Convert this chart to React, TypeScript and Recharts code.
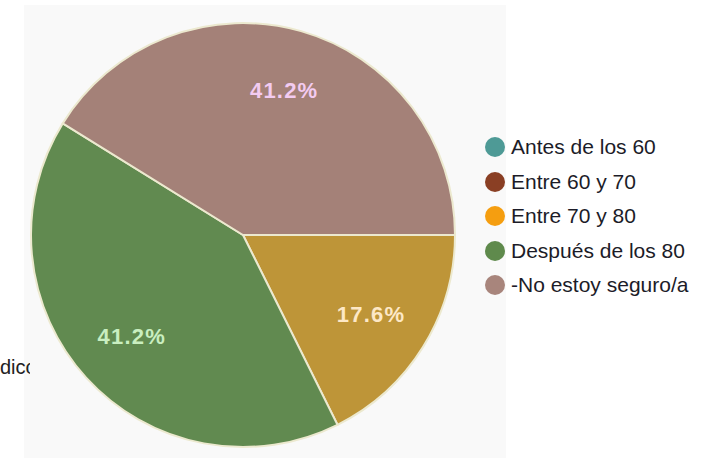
import React from 'react';
import { PieChart, Pie, Cell, Legend } from 'recharts';

const categories = ['Antes de los 60', 'Entre 60 y 70', 'Entre 70 y 80', 'Después de los 80', '-No estoy seguro/a'];
const counts = [0, 0, 3, 7, 7];
const sliceColors = ['#4e9a96', '#8a3f24', '#be9538', '#618a50', '#a48178'];
const legendColors = ['#4e9a96', '#8a3f24', '#f59e10', '#5f8a4c', '#a8857c'];
const labelColors = ['#ffffff', '#ffffff', '#fde8c6', '#c9eec0', '#f3cbf1'];

const data = categories.map((name, i) => ({ name, value: counts[i] }));
const total = counts.reduce((a, b) => a + b, 0);

const RAD = Math.PI / 180;

const renderLabel = (props: any) => {
  const { cx, cy, midAngle, outerRadius, value, index } = props;
  if (!value) return null;
  const r = outerRadius * 0.71;
  const x = cx + r * Math.cos(-midAngle * RAD);
  const y = cy + r * Math.sin(-midAngle * RAD);
  return (
    <text
      x={x}
      y={y}
      fill={labelColors[index]}
      textAnchor="middle"
      dominantBaseline="central"
      fontSize={22}
      fontWeight="bold"
      fontFamily="Liberation Sans, Arial, sans-serif"
      letterSpacing={1.2}
    >
      {((value / total) * 100).toFixed(1) + '%'}
    </text>
  );
};

const renderLegend = () => (
  <div style={{ fontFamily: 'Liberation Sans, Arial, sans-serif', fontSize: 21, color: '#1c1c28' }}>
    {categories.map((c, i) => (
      <div key={c} style={{ display: 'flex', alignItems: 'center', height: 34.5 }}>
        <span
          style={{
            display: 'inline-block',
            width: 20,
            height: 20,
            borderRadius: 10,
            background: legendColors[i],
            marginRight: 6,
          }}
        />
        <span>{c}</span>
      </div>
    ))}
  </div>
);

export default function App() {
  return (
    <div style={{ position: 'fixed', left: 0, top: 0, width: 703, height: 458, background: '#fff', overflow: 'hidden' }}>
      <div style={{ position: 'absolute', left: 24, top: 5, width: 482, height: 453, background: '#f9f9f9' }} />
      <div
        style={{
          position: 'absolute',
          left: 0,
          top: 356,
          width: 30,
          overflow: 'hidden',
          fontFamily: 'Liberation Sans, Arial, sans-serif',
          fontSize: 20,
          color: '#222',
          whiteSpace: 'nowrap',
        }}
      >
        dico
      </div>
      <div style={{ position: 'absolute', left: 0, top: 0 }}>
        <PieChart width={703} height={458} margin={{ top: 0, right: 0, bottom: 0, left: 0 }}>
          <Pie
            data={data}
            dataKey="value"
            nameKey="name"
            cx={243}
            cy={235}
            outerRadius={212}
            startAngle={0}
            endAngle={-360}
            stroke="#ece9cf"
            strokeWidth={2}
            labelLine={false}
            label={renderLabel}
            isAnimationActive={false}
          >
            {data.map((d, i) => (
              <Cell key={d.name} fill={sliceColors[i]} />
            ))}
          </Pie>
          <Legend
            content={renderLegend}
            layout="vertical"
            wrapperStyle={{ position: 'absolute', left: 485, top: 130, width: 218 }}
          />
        </PieChart>
      </div>
    </div>
  );
}
